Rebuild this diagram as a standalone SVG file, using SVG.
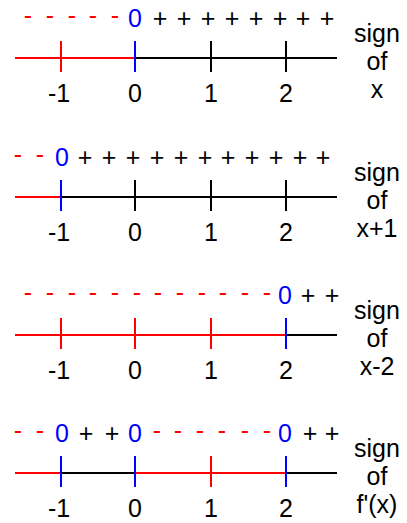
<svg xmlns="http://www.w3.org/2000/svg" width="407" height="523" viewBox="0 0 407 523">
<style>
text{font-family:"Liberation Sans",Arial,sans-serif}
.ax{stroke-width:2;fill:none}
.r{stroke:#ff0000}.b{stroke:#0000ff}.k{stroke:#000}
.row{font-size:25px;text-anchor:middle}
.dash{fill:#ff0000}.zero{fill:#0000ff}.plus{fill:#000}
.num{font-size:25px;text-anchor:middle;fill:#000}
.lab{font-size:25px;text-anchor:middle;fill:#000}
</style>
<rect width="407" height="523" fill="#fff"/>

<g id="panel1">
<path class="ax r" d="M15 58H135M61 41V72"/>
<path class="ax k" d="M135 58H337M211 41V72M286 41V72"/>
<path class="ax b" d="M135 41V72"/>
<text class="row dash" x="28 50 72 93 115" y="24">-----</text>
<text class="row zero" x="135" y="27">0</text>
<text class="row plus" x="160 184 208 232 256 280 303 327" y="27">++++++++</text>
<text class="num" x="59" y="102">-1</text><text class="num" x="135" y="102">0</text><text class="num" x="211" y="102">1</text><text class="num" x="286" y="102">2</text>
<text class="lab"><tspan x="377" y="42">sign</tspan><tspan x="377" y="70">of</tspan><tspan x="377" y="98">x</tspan></text>
</g>

<g id="panel2">
<path class="ax r" d="M15 197H61"/>
<path class="ax k" d="M61 197H337M135 180V211M211 180V211M286 180V211"/>
<path class="ax b" d="M61 180V211"/>
<text class="row dash" x="18 40" y="163">--</text>
<text class="row zero" x="62" y="166">0</text>
<text class="row plus" x="85 109 133 157 181 205 228 252 276 300 323" y="166">+++++++++++</text>
<text class="num" x="59" y="241">-1</text><text class="num" x="135" y="241">0</text><text class="num" x="211" y="241">1</text><text class="num" x="286" y="241">2</text>
<text class="lab"><tspan x="377" y="181">sign</tspan><tspan x="377" y="209">of</tspan><tspan x="377" y="237">x+1</tspan></text>
</g>

<g id="panel3">
<path class="ax r" d="M15 335H286M61 318V349M135 318V349M211 318V349"/>
<path class="ax k" d="M286 335H337"/>
<path class="ax b" d="M286 318V349"/>
<text class="row dash" x="28 50 72 93 115 137 158 180 202 223 245 267" y="301">------------</text>
<text class="row zero" x="285" y="304">0</text>
<text class="row plus" x="308 332" y="304">++</text>
<text class="num" x="59" y="379">-1</text><text class="num" x="135" y="379">0</text><text class="num" x="211" y="379">1</text><text class="num" x="286" y="379">2</text>
<text class="lab"><tspan x="377" y="319">sign</tspan><tspan x="377" y="347">of</tspan><tspan x="377" y="375">x-2</tspan></text>
</g>

<g id="panel4">
<path class="ax r" d="M15 473H61M135 473H286M211 456V487"/>
<path class="ax k" d="M61 473H135M286 473H337"/>
<path class="ax b" d="M61 456V487M135 456V487M286 456V487"/>
<text class="row dash" x="18 40" y="439">--</text>
<text class="row zero" x="62" y="442">0</text>
<text class="row plus" x="86 112" y="442">++</text>
<text class="row zero" x="135" y="442">0</text>
<text class="row dash" x="157 178 200 222 245 267" y="439">------</text>
<text class="row zero" x="285" y="442">0</text>
<text class="row plus" x="310 332" y="442">++</text>
<text class="num" x="59" y="517">-1</text><text class="num" x="135" y="517">0</text><text class="num" x="211" y="517">1</text><text class="num" x="286" y="517">2</text>
<text class="lab"><tspan x="377" y="457">sign</tspan><tspan x="377" y="485">of</tspan><tspan x="377" y="513">f'(x)</tspan></text>
</g>
</svg>
